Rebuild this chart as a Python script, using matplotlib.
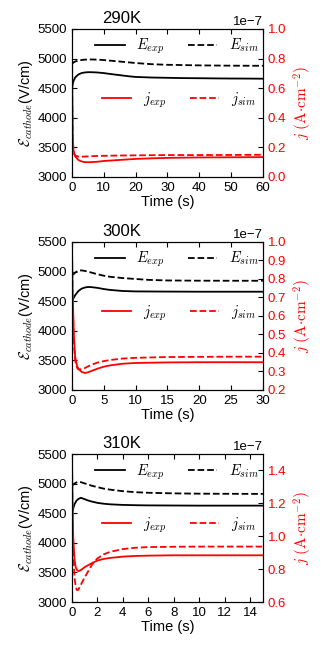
import numpy as np
import matplotlib
matplotlib.use('Agg')
import matplotlib.pyplot as plt

plt.rcParams['font.family'] = ['Liberation Sans', 'DejaVu Sans']
plt.rcParams['mathtext.fontset'] = 'cm'
plt.rcParams['font.size'] = 9.5

# ---- 290K ----
t_e_290 = [0, 0.2, 0.5, 1, 2, 3, 4, 5, 6, 8, 10, 12, 15, 18, 20, 25, 30, 35, 40, 45, 50, 55, 60]
e_exp_290 = [4480, 4560, 4620, 4680, 4730, 4755, 4765, 4770, 4770, 4765, 4755, 4740, 4720, 4700,
             4690, 4680, 4675, 4670, 4668, 4665, 4663, 4662, 4660]
t_es_290 = [0, 0.2, 0.5, 1, 2, 3, 4, 6, 8, 10, 15, 20, 25, 30, 40, 50, 60]
e_sim_290 = [4905, 4920, 4935, 4950, 4965, 4975, 4982, 4985, 4982, 4975, 4950, 4925, 4905, 4895,
             4885, 4880, 4878]
t_j_290 = [0, 0.1, 0.3, 0.5, 1, 2, 3, 4, 6, 8, 10, 15, 20, 25, 30, 40, 50, 60]
j_exp_290 = [1.0, 0.6, 0.25, 0.18, 0.14, 0.115, 0.105, 0.1, 0.1, 0.103, 0.108, 0.115, 0.122,
             0.126, 0.129, 0.132, 0.133, 0.134]
j_sim_290 = [1.0, 0.5, 0.2, 0.16, 0.145, 0.138, 0.137, 0.138, 0.14, 0.142, 0.143, 0.145, 0.146,
             0.147, 0.148, 0.148, 0.149, 0.15]

# ---- 300K ----
t_e_300 = [0, 0.2, 0.5, 1, 1.5, 2, 2.5, 3, 4, 5, 6, 8, 10, 15, 20, 25, 30]
e_exp_300 = [4470, 4540, 4600, 4670, 4710, 4730, 4740, 4738, 4725, 4705, 4690, 4672, 4665, 4662,
             4660, 4660, 4660]
t_es_300 = [0, 0.3, 0.6, 1, 1.5, 2, 3, 4, 5, 6, 8, 10, 12, 15, 20, 25, 30]
e_sim_300 = [4940, 4960, 4990, 5015, 5020, 5012, 4985, 4955, 4930, 4912, 4890, 4875, 4860, 4850,
             4846, 4845, 4845]
t_j_300 = [0, 0.1, 0.3, 0.5, 0.8, 1, 1.5, 2, 2.5, 3, 4, 5, 6, 8, 10, 15, 20, 25, 30]
j_exp_300 = [1.0, 0.75, 0.5, 0.38, 0.33, 0.315, 0.298, 0.292, 0.295, 0.302, 0.315, 0.326, 0.333,
             0.342, 0.346, 0.349, 0.35, 0.35, 0.35]
j_sim_300 = [1.0, 0.7, 0.45, 0.36, 0.32, 0.312, 0.312, 0.318, 0.327, 0.335, 0.348, 0.356, 0.362,
             0.37, 0.374, 0.378, 0.379, 0.38, 0.38]

# ---- 310K ----
t_e_310 = [0, 0.1, 0.2, 0.35, 0.5, 0.7, 0.9, 1.2, 1.5, 2, 2.5, 3, 4, 5, 6, 8, 10, 12, 15]
e_exp_310 = [4480, 4580, 4650, 4710, 4740, 4760, 4745, 4720, 4700, 4675, 4660, 4650, 4640, 4635,
             4632, 4630, 4628, 4628, 4628]
e_sim_310 = [4960, 4985, 5000, 5020, 5030, 5025, 5010, 4990, 4968, 4940, 4915, 4898, 4872, 4855,
             4845, 4835, 4830, 4828, 4826]
t_j_310 = [0, 0.05, 0.1, 0.2, 0.3, 0.4, 0.5, 0.6, 0.8, 1.0, 1.3, 1.6, 2, 2.5, 3, 4, 5, 6, 8, 10, 12, 15]
j_exp_310 = [1.5, 1.2, 1.0, 0.86, 0.81, 0.795, 0.788, 0.79, 0.8, 0.812, 0.825, 0.838, 0.852, 0.862,
             0.868, 0.876, 0.88, 0.882, 0.884, 0.884, 0.884, 0.884]
j_sim_310 = [1.5, 1.1, 0.9, 0.75, 0.69, 0.672, 0.675, 0.69, 0.72, 0.75, 0.79, 0.83, 0.865, 0.89,
             0.905, 0.922, 0.93, 0.934, 0.936, 0.937, 0.937, 0.937]

panels = [
    dict(title='290K', te=t_e_290, e_exp=e_exp_290, tes=t_es_290, e_sim=e_sim_290,
         tj=t_j_290, j_exp=j_exp_290, j_sim=j_sim_290, xmax=60, xstep=10,
         jlim=(0.0, 1.0), jticks=np.arange(0.0, 1.01, 0.2)),
    dict(title='300K', te=t_e_300, e_exp=e_exp_300, tes=t_es_300, e_sim=e_sim_300,
         tj=t_j_300, j_exp=j_exp_300, j_sim=j_sim_300, xmax=30, xstep=5,
         jlim=(0.2, 1.0), jticks=np.arange(0.2, 1.01, 0.1)),
    dict(title='310K', te=t_e_310, e_exp=e_exp_310, tes=t_e_310, e_sim=e_sim_310,
         tj=t_j_310, j_exp=j_exp_310, j_sim=j_sim_310, xmax=15, xstep=2,
         jlim=(0.6, 1.5), jticks=np.arange(0.6, 1.41, 0.2)),
]

bottoms = [0.7294, 0.4037, 0.0795]

fig = plt.figure(figsize=(3.27, 6.54), dpi=100)

for p, b in zip(panels, bottoms):
    ax = fig.add_axes([0.220, b, 0.584, 0.2263])
    ax2 = ax.twinx()

    l1, = ax.plot(p['te'], p['e_exp'], color='black', lw=1.3, label='$E_{exp}$')
    l2, = ax.plot(p['tes'], p['e_sim'], color='black', lw=1.3, ls='--', label='$E_{sim}$')
    l3, = ax2.plot(p['tj'], np.array(p['j_exp']) * 1e-7, color='red', lw=1.3, label='$j_{exp}$')
    l4, = ax2.plot(p['tj'], np.array(p['j_sim']) * 1e-7, color='red', lw=1.3, ls='--',
                   label='$j_{sim}$')

    ax.set_xlim(0, p['xmax'])
    ax.set_xticks(np.arange(0, p['xmax'] + 0.1, p['xstep']))
    ax.set_ylim(3000, 5500)
    ax.set_yticks(np.arange(3000, 5501, 500))
    ax.tick_params(direction='in', top=True, right=False)
    ax.set_xlabel('Time (s)', labelpad=1, fontsize=10.5)
    ax.set_ylabel(r'$\mathcal{E}_{cathode}$(V/cm)', labelpad=2, fontsize=10.5)
    ax.set_title(p['title'], x=0.26, fontsize=12, pad=4)

    ax2.set_ylim(p['jlim'][0] * 1e-7, p['jlim'][1] * 1e-7)
    ax2.set_yticks(p['jticks'] * 1e-7)
    ax2.tick_params(direction='in', labelcolor='red')
    ax2.yaxis.get_offset_text().set_color('black')
    ax2.set_ylabel(r'$j\ (\mathrm{A{\cdot}cm^{-2}})$', color='red', fontsize=11)

    leg1 = ax2.legend(handles=[l1, l2], loc='center', bbox_to_anchor=(0.55, 0.88), ncol=2,
                      frameon=False, fontsize=10.5, columnspacing=1.6)
    ax2.add_artist(leg1)
    ax2.legend(handles=[l3, l4], loc='center', bbox_to_anchor=(0.56, 0.52), ncol=2,
               frameon=False, fontsize=10.5, columnspacing=1.6)

fig.savefig('out.png', dpi=100)
